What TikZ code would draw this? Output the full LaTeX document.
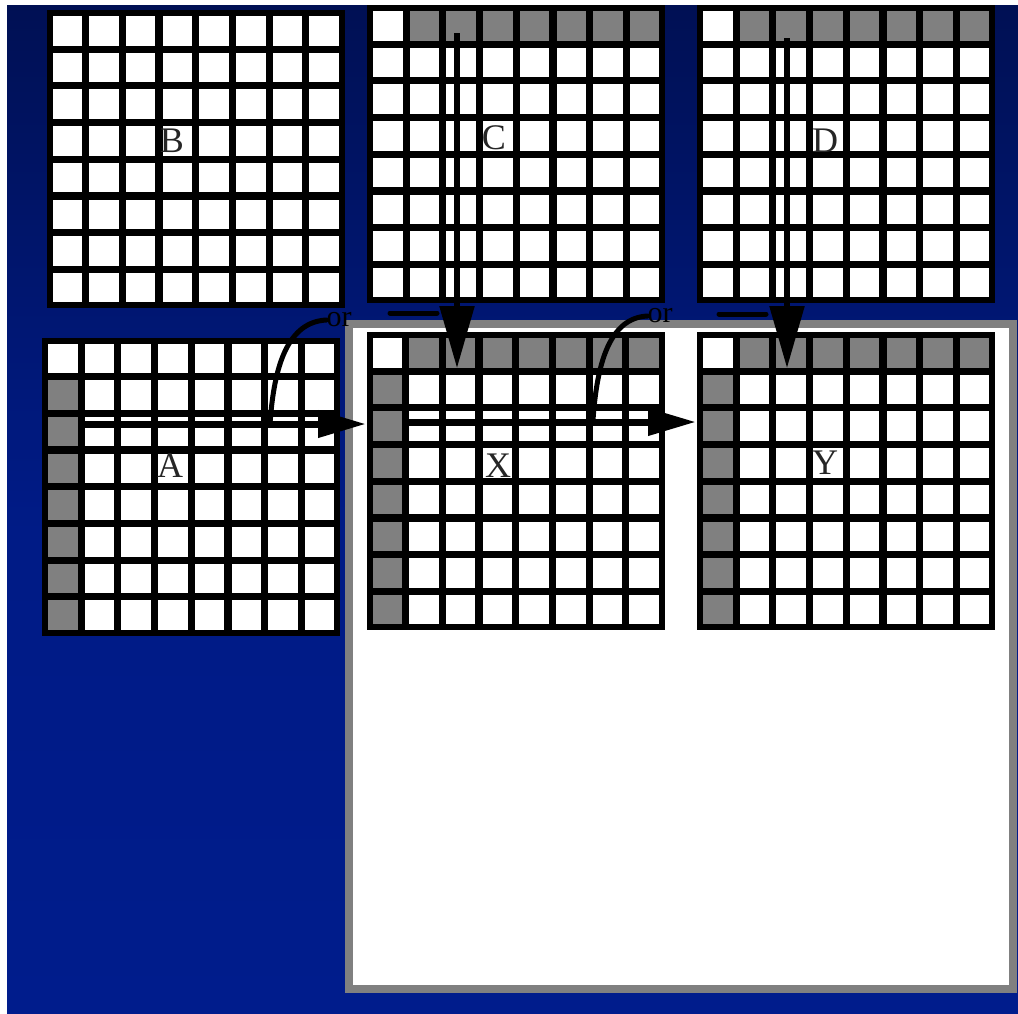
\documentclass[tikz,border=0pt]{standalone}
\usepackage{fontspec}
\setmainfont{Liberation Serif}
\usetikzlibrary{arrows.meta}
\definecolor{bgtop}{RGB}{0,16,84}
\definecolor{bgbot}{RGB}{0,28,140}
\definecolor{cellgray}{RGB}{128,128,128}
\definecolor{panelgray}{RGB}{128,128,128}
\tikzset{
  gridbox/.style={fill=black, minimum width=298pt, minimum height=298pt, inner sep=0pt, outer sep=0pt},
  lab/.style={font=\fontsize{36}{36}\selectfont, inner sep=0pt, text=black!85},
  ortext/.style={font=\fontsize{30}{30}\selectfont, inner sep=0pt, text=black},
  vshaft/.style={line width=5.5pt, -{Triangle[length=62pt,width=34pt]}},
  hshaft/.style={line width=7pt, -{Triangle[length=48pt,width=26pt]}},
  orcurve/.style={line width=5pt, line cap=round},
  bar/.style={line width=5pt, line cap=round},
}
\newcommand\cellgrid[4]{%
  \node[gridbox] (#1) at (#2,#3) {};
  \begin{scope}[shift={(#1.north west)}]
    \foreach \i in {0,...,7}{
      \foreach \j in {0,...,7}{
        \pgfmathtruncatemacro\gg{((#4==1)+(#4==3))*(\j==0)*(\i>0)+((#4==2)+(#4==3))*(\i==0)*(\j>0)}
        \ifnum\gg>0 \def\cc{cellgray}\else\def\cc{white}\fi
        \fill[\cc] (6+\i*36.7, 6+\j*36.7) rectangle ++(29.5,29.5);
      }
    }
  \end{scope}
}
\begin{document}
\begin{tikzpicture}[x=1pt,y=-1pt]
\useasboundingbox (0,0) rectangle (1018,1013);
\shade[top color=bgtop, bottom color=bgbot, middle color=bgbot!88!bgtop] (7,5) rectangle (1018,1013);
% panel
\node[draw=panelgray, fill=white, line width=8pt, minimum width=664pt, minimum height=665pt, inner sep=0pt] (panel) at (681,656.5) {};
% grids
\cellgrid{B}{195.5}{159}{0}
\cellgrid{C}{516}{154}{1}
\cellgrid{D}{846}{154}{1}
\cellgrid{A}{191}{486.5}{2}
\cellgrid{X}{515.5}{481}{3}
\cellgrid{Y}{846}{481}{3}
% labels
\node[lab] (lB) at (172,141) {B};
\node[lab] (lC) at (494,138) {C};
\node[lab] (lD) at (825,141) {D};
\node[lab] (lA) at (170,466) {A};
\node[lab] (lX) at (498,466) {X};
\node[lab] (lY) at (825,463) {Y};
% arrow endpoints
\coordinate (c1) at (457,33);
\coordinate (x1) at (457,368);
\coordinate (d1) at (787,38);
\coordinate (y1) at (787,368);
\coordinate (a2) at (85,424);
\coordinate (x2) at (366,424);
\coordinate (x3) at (408,422);
\coordinate (y3) at (696,422);
\draw[vshaft] (c1) -- (x1);
\draw[vshaft] (d1) -- (y1);
\draw[hshaft] (a2) -- (x2);
\draw[hshaft] (x3) -- (y3);
% short bars
\coordinate (b1s) at (390,313);
\coordinate (b1e) at (437,313);
\coordinate (b2s) at (719,314);
\coordinate (b2e) at (766,314);
\draw[bar] (b1s) -- (b1e);
\draw[bar] (b2s) -- (b2e);
% or
\node[ortext] (or1) at (339,320) {or};
\node[ortext] (or2) at (660,316) {or};
\coordinate (o1s) at (270,424);
\coordinate (o2s) at (593,420);
\draw[orcurve] (o1s) .. controls (274,365) and (288,322) .. (or1.west);
\draw[orcurve] (o2s) .. controls (597,362) and (610,318) .. (or2.west);
\end{tikzpicture}
\end{document}
